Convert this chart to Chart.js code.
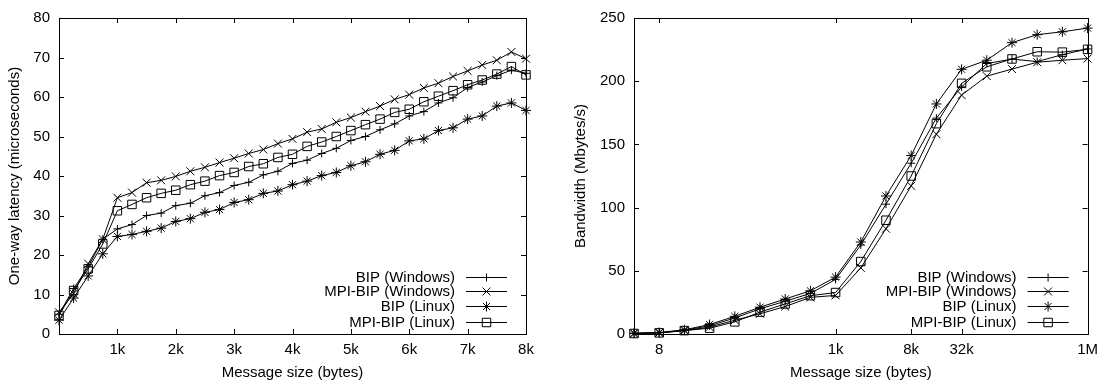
<!DOCTYPE html>
<html>
<head>
<meta charset="utf-8">
<script src="https://cdn.jsdelivr.net/npm/chart.js@4.4.1/dist/chart.umd.min.js"></script>
<style>
  body { margin: 0; background: #fff; width: 1105px; height: 385px; position: relative; overflow: hidden; }
  canvas { position: absolute; top: 0; }
  #latencyChart { left: 0; }
  #bandwidthChart { left: 560px; }
</style>
</head>
<body>
<canvas id="latencyChart" width="545" height="385"></canvas>
<canvas id="bandwidthChart" width="545" height="385"></canvas>
<script>
// series shared by both plots
const seriesNames = ['BIP (Windows)', 'MPI-BIP (Windows)', 'BIP (Linux)', 'MPI-BIP (Linux)'];
const seriesMarkers = ['cross', 'crossRot', 'star', 'rect'];
const markerRadius = [4, 5.6, 5, 6];

// left plot: one-way latency (microseconds) vs message size (bytes)
const latencySizes = [0, 256, 512, 768, 1024, 1280, 1536, 1792, 2048, 2304, 2560, 2816, 3072, 3328, 3584, 3840,
  4096, 4352, 4608, 4864, 5120, 5376, 5632, 5888, 6144, 6400, 6656, 6912, 7168, 7424, 7680, 7936, 8192];
const latBipWin = [5, 11.5, 17, 24, 26.6, 27.7, 30.0, 30.6, 32.5, 33.1, 35.0, 35.8, 37.6, 38.4, 40.3, 41.2,
  43.2, 44.0, 45.7, 47.0, 49.0, 50.0, 51.7, 53.2, 55.2, 56.3, 58.5, 59.8, 62.4, 63.8, 65.4, 66.8, 66.0];
const latMpiWin = [5.5, 10.2, 17.8, 24, 34.5, 35.8, 38.3, 38.9, 39.9, 41.2, 42.2, 43.4, 44.5, 45.7, 46.7, 48.2,
  49.4, 51.1, 51.9, 53.6, 54.8, 56.3, 57.7, 59.4, 60.6, 62.3, 63.5, 65.2, 66.6, 68.1, 69.3, 71.4, 69.7];
const latBipLinux = [3.5, 9.1, 14.7, 20.3, 24.7, 25.2, 26.0, 26.8, 28.5, 29.2, 30.8, 31.5, 33.3, 34.0, 35.6, 36.2,
  37.8, 38.7, 40.1, 40.9, 42.6, 43.6, 45.5, 46.5, 48.9, 49.4, 51.5, 52.2, 54.4, 55.2, 57.7, 58.5, 56.6];
const latMpiLinux = [4.7, 11.0, 16.5, 22.8, 31.2, 32.8, 34.5, 35.6, 36.4, 37.8, 38.7, 40.1, 40.9, 42.4, 43.1, 44.7,
  45.5, 47.5, 48.6, 50.0, 51.5, 53.0, 54.4, 56.1, 56.9, 58.8, 60.2, 61.6, 63.1, 64.3, 65.8, 67.7, 65.6];
const latencyTicks = [1024, 2048, 3072, 4096, 5120, 6144, 7168, 8192];
const latencyTickLabels = ['1k', '2k', '3k', '4k', '5k', '6k', '7k', '8k'];

// right plot: bandwidth (Mbytes/s) vs message size, log scale
const bwSizes = [4, 8, 16, 32, 64, 128, 256, 512, 1024, 2048, 4096, 8192, 16384, 32768,
  65536, 131072, 262144, 524288, 1048576];
const bwBipWin = [0.5, 1, 3, 6.5, 12.7, 19.9, 25.9, 32.1, 43.2, 70.4, 102.7, 135.1, 170.8, 195.5, 214, 217.5, 215.5, 221, 225.5];
const bwMpiWin = [0.4, 0.9, 2.6, 5.5, 10.9, 16, 21.7, 29.0, 30.5, 52.3, 83.3, 117.2, 158.1, 189, 204, 209.6, 215, 216.6, 217.9];
const bwBipLinux = [0.6, 1.2, 3.3, 7.5, 14, 21.2, 27.7, 34.2, 45, 72.8, 109.2, 141.2, 182, 209.4, 216.6, 230.5, 236.8, 239.1, 242];
const bwMpiLinux = [0.4, 0.9, 2.7, 4.6, 9.6, 17.3, 23.8, 30.3, 32.8, 57.3, 90, 125, 166.4, 198.3, 211.4, 217.6, 223.3, 223, 225.2];
const bwTicks = [8, 1024, 8192, 32768, 1048576];
const bwTickLabels = ['8', '1k', '8k', '32k', '1M'];

const FONT = { family: '"Liberation Sans", Arial, sans-serif', size: 15 };
Chart.defaults.color = '#000';
Chart.defaults.font.family = FONT.family;
Chart.defaults.font.size = FONT.size;

function makeDatasets(sizes, lists) {
  return lists.map((vals, i) => ({
    label: seriesNames[i],
    data: sizes.map((s, j) => ({ x: s, y: vals[j] })),
    borderColor: '#000',
    borderWidth: 1,
    pointStyle: seriesMarkers[i],
    pointRadius: markerRadius[i],
    pointBorderColor: '#000',
    pointBackgroundColor: 'rgba(0,0,0,0)',
    pointBorderWidth: 1,
    tension: 0,
    clip: false
  }));
}

// box around the plot, inward ticks on all four sides, and the gnuplot style key
const framePlugin = {
  id: 'frame',
  afterDatasetsDraw(chart) {
    const { ctx, chartArea: a, scales: { x, y } } = chart;
    const len = 5;
    ctx.save();
    ctx.strokeStyle = '#000';
    ctx.lineWidth = 1;
    ctx.beginPath();
    x.ticks.forEach(t => {
      const px = Math.round(x.getPixelForValue(t.value)) + 0.5;
      ctx.moveTo(px, a.bottom); ctx.lineTo(px, a.bottom - len);
      ctx.moveTo(px, a.top); ctx.lineTo(px, a.top + len);
    });
    y.ticks.forEach(t => {
      const py = Math.round(y.getPixelForValue(t.value)) + 0.5;
      ctx.moveTo(a.left, py); ctx.lineTo(a.left + len, py);
      ctx.moveTo(a.right, py); ctx.lineTo(a.right - len, py);
    });
    ctx.stroke();
    ctx.strokeRect(Math.round(a.left) + 0.5, Math.round(a.top) + 0.5,
      Math.round(a.right - a.left), Math.round(a.bottom - a.top));

    // key
    ctx.font = FONT.size + 'px ' + FONT.family;
    ctx.textAlign = 'right';
    ctx.textBaseline = 'middle';
    const rowOffsets = [57.3, 43, 28, 12.5];
    chart.data.datasets.forEach((ds, i) => {
      const ry = Math.round(a.bottom - rowOffsets[i]) + 0.5;
      ctx.fillStyle = '#000';
      ctx.fillText(ds.label, a.right - 71, ry);
      ctx.beginPath();
      ctx.moveTo(a.right - 60, ry);
      ctx.lineTo(a.right - 19, ry);
      ctx.stroke();
      ctx.fillStyle = 'rgba(0,0,0,0)';
      Chart.helpers.drawPoint(ctx, {
        pointStyle: ds.pointStyle, radius: ds.pointRadius, borderWidth: 1, rotation: 0
      }, a.right - 39.5, ry);
    });
    ctx.restore();
  }
};

function axisOptions(cfg) {
  return {
    x: {
      type: cfg.xType,
      min: cfg.xMin,
      max: cfg.xMax,
      afterBuildTicks: s => { s.ticks = cfg.xTicks.map(v => ({ value: v })); },
      afterFit: s => { s.height = 51; },
      grid: { display: false, drawTicks: false },
      border: { display: false },
      ticks: {
        padding: 7,
        autoSkip: false,
        maxRotation: 0,
        callback: (v, i) => cfg.xLabels[i]
      },
      title: { display: true, text: 'Message size (bytes)', padding: { top: 0, bottom: 3 } }
    },
    y: {
      min: 0,
      max: cfg.yMax,
      afterFit: s => { s.width = cfg.yWidth; },
      grid: { display: false, drawTicks: false },
      border: { display: false },
      ticks: { stepSize: cfg.yStep, padding: 9 },
      title: { display: true, text: cfg.yTitle, padding: { top: cfg.yTitlePad, bottom: 0 } }
    }
  };
}

new Chart(document.getElementById('latencyChart'), {
  type: 'line',
  data: { datasets: makeDatasets(latencySizes, [latBipWin, latMpiWin, latBipLinux, latMpiLinux]) },
  options: {
    responsive: false,
    animation: false,
    layout: { padding: { top: 12, right: 19, left: 0, bottom: 0 } },
    plugins: { legend: { display: false }, tooltip: { enabled: false } },
    scales: axisOptions({
      xType: 'linear', xMin: 0, xMax: 8192, xTicks: latencyTicks, xLabels: latencyTickLabels,
      yMax: 80, yStep: 10, yWidth: 59, yTitle: 'One-way latency (microseconds)', yTitlePad: 6
    })
  },
  plugins: [framePlugin]
});

new Chart(document.getElementById('bandwidthChart'), {
  type: 'line',
  data: { datasets: makeDatasets(bwSizes, [bwBipWin, bwMpiWin, bwBipLinux, bwMpiLinux]) },
  options: {
    responsive: false,
    animation: false,
    layout: { padding: { top: 12, right: 13, left: 0, bottom: 0 } },
    plugins: { legend: { display: false }, tooltip: { enabled: false } },
    scales: axisOptions({
      xType: 'logarithmic', xMin: 4, xMax: 1048576, xTicks: bwTicks, xLabels: bwTickLabels,
      yMax: 250, yStep: 50, yWidth: 74, yTitle: 'Bandwidth (Mbytes/s)', yTitlePad: 12
    })
  },
  plugins: [framePlugin]
});
</script>
</body>
</html>
